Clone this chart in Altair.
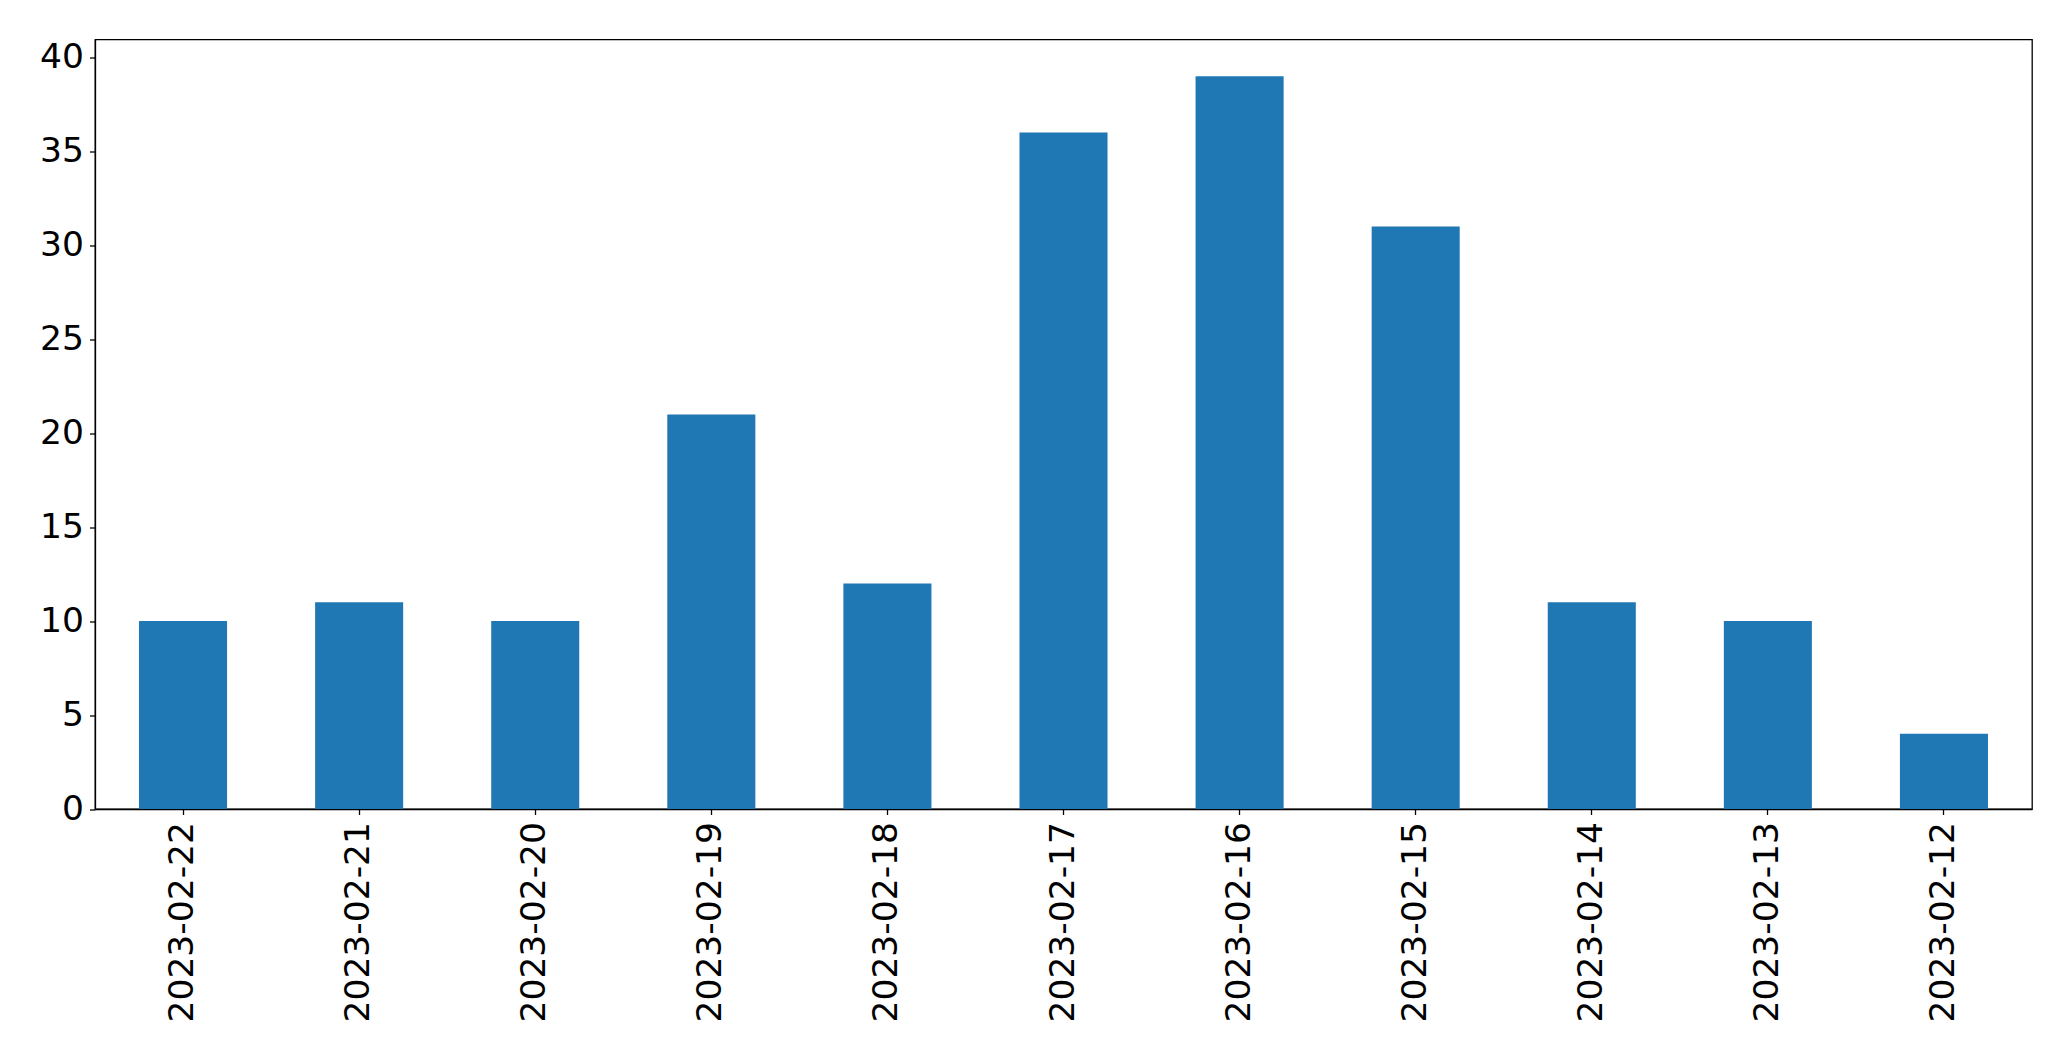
import altair as alt
import pandas as pd

dates = ["2023-02-22", "2023-02-21", "2023-02-20", "2023-02-19", "2023-02-18",
         "2023-02-17", "2023-02-16", "2023-02-15", "2023-02-14", "2023-02-13",
         "2023-02-12"]
counts = [10, 11, 10, 21, 12, 36, 39, 31, 11, 10, 4]
y_ticks = [0, 5, 10, 15, 20, 25, 30, 35, 40]

df = pd.DataFrame({"date": dates, "count": counts})

FONT = "DejaVu Sans"
FS = 34.5

chart = alt.Chart(df).mark_bar(color="#1f77b4").encode(
    x=alt.X("date:N", sort=dates, title=None,
            scale=alt.Scale(paddingInner=0.5, paddingOuter=0.25),
            axis=alt.Axis(labelAngle=270, labelFontSize=FS, labelFont=FONT,
                          labelColor="black", labelPadding=7, tickSize=5.5,
                          tickWidth=1.3, tickColor="black", domainColor="black",
                          domainWidth=1.3, grid=False, labelAlign="right",
                          labelBaseline="middle", labelLimit=0)),
    y=alt.Y("count:Q", title=None,
            scale=alt.Scale(domain=[0, 40.95], nice=False, zero=True),
            axis=alt.Axis(values=y_ticks, labelFontSize=FS, labelFont=FONT,
                          labelColor="black", labelPadding=6, tickSize=5.5,
                          tickWidth=1.3, tickColor="black", domainColor="black",
                          domainWidth=1.3, grid=False, labelLimit=0)),
).properties(
    width=1937,
    height=769.5,
    autosize=alt.AutoSizeParams(type="none"),
    padding={"left": 87, "top": 31.5, "right": 20, "bottom": 230},
).configure_view(
    stroke="black", strokeWidth=1.3
)

chart.save("out.html", embed_options={"renderer": "svg", "actions": False})
